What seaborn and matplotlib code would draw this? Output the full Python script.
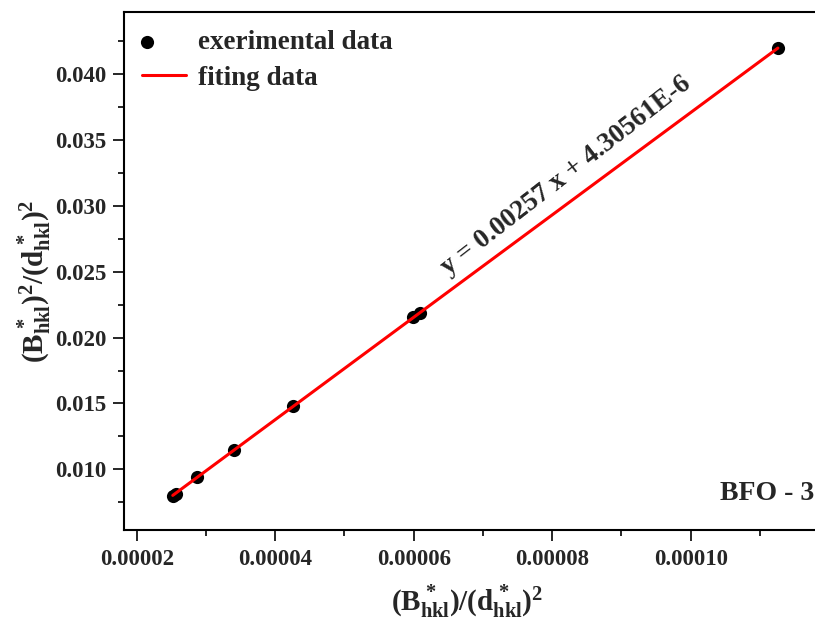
import matplotlib
matplotlib.use("Agg")
import matplotlib.pyplot as plt
from matplotlib.ticker import MultipleLocator, FormatStrFormatter
from matplotlib.collections import PathCollection
from matplotlib.legend_handler import HandlerPathCollection
import seaborn as sns
import pandas as pd

# values
x_vals = [2.52e-5, 2.56e-5, 2.866e-5, 3.409e-5, 4.261e-5, 5.994e-5, 6.091e-5, 1.126e-4]
y_vals = [0.00800, 0.00812, 0.00939, 0.01146, 0.01483, 0.02158, 0.02188, 0.04194]
fit_label = "y = 0.00257 x + 4.30561E-6"
sample_label = "BFO - 3"

df = pd.DataFrame({"x": x_vals, "y": y_vals})


class LeftMarkerHandler(HandlerPathCollection):
    # Origin-style legend: the symbol sits at the left end of the handle
    def get_xdata(self, legend, xdescent, ydescent, width, height, fontsize):
        xdata = [-xdescent + 0.12 * width]
        return xdata, xdata


sns.set_style("ticks")
plt.rcParams["font.family"] = ["Liberation Serif", "DejaVu Serif"]
plt.rcParams["font.weight"] = "bold"
plt.rcParams["mathtext.fontset"] = "custom"
plt.rcParams["mathtext.rm"] = "Liberation Serif:bold"
plt.rcParams["mathtext.it"] = "Liberation Serif:bold"
plt.rcParams["mathtext.bf"] = "Liberation Serif:bold"

fig = plt.figure(figsize=(8.15, 6.24), dpi=100)
# the axes run a little past the right edge, as in the cropped original
ax = fig.add_axes([0.1525, 0.1506, 0.8606, 0.8296])

sns.scatterplot(data=df, x="x", y="y", ax=ax, color="black", s=90,
                edgecolor="black", linewidth=0, zorder=3, label="exerimental data")
sns.regplot(data=df, x="x", y="y", ax=ax, scatter=False, ci=None,
            color="red", line_kws={"linewidth": 2.2, "zorder": 4}, label="fiting data")

ax.set_xlim(1.82e-5, 1.195e-4)
ax.set_ylim(0.005394, 0.04468)
ax.xaxis.set_major_locator(MultipleLocator(2e-5))
ax.xaxis.set_minor_locator(MultipleLocator(1e-5))
ax.yaxis.set_major_locator(MultipleLocator(0.005))
ax.yaxis.set_minor_locator(MultipleLocator(0.0025))
ax.xaxis.set_major_formatter(FormatStrFormatter("%.5f"))
ax.yaxis.set_major_formatter(FormatStrFormatter("%.3f"))
ax.tick_params(which="major", direction="out", length=8, width=1.4, labelsize=16.5)
ax.tick_params(which="minor", direction="out", length=4.5, width=1.4)
ax.tick_params(axis="x", which="major", pad=6)
ax.tick_params(axis="y", which="major", pad=5)
for side in ["left", "bottom", "top", "right"]:
    ax.spines[side].set_linewidth(1.5)
    ax.spines[side].set_color("black")
for lbl in ax.get_xticklabels() + ax.get_yticklabels():
    lbl.set_fontweight("bold")

ax.set_xlabel(r"$(B^*_{hkl})/(d^*_{hkl})^2$", fontsize=21)
ax.set_ylabel(r"$(B^*_{hkl})^2/(d^*_{hkl})^2$", fontsize=21)
ax.xaxis.set_label_coords(0.489, -0.104)
ax.yaxis.set_label_coords(-0.1, 0.481)

ax.text(8.2e-5, 0.0323, fit_label, rotation=37.8, fontsize=19.5, fontweight="bold",
        ha="center", va="center", rotation_mode="anchor")
ax.text(1.042e-4, 0.0082, sample_label, fontsize=20, fontweight="bold",
        ha="left", va="center")

leg = ax.legend(loc="upper left", frameon=False, fontsize=19.5, handlelength=1.63,
                borderaxespad=0.3, borderpad=0.35, labelspacing=0.4, handletextpad=0.45,
                handler_map={PathCollection: LeftMarkerHandler()})
for t in leg.get_texts():
    t.set_fontweight("bold")

fig.savefig("out.png", dpi=100)
